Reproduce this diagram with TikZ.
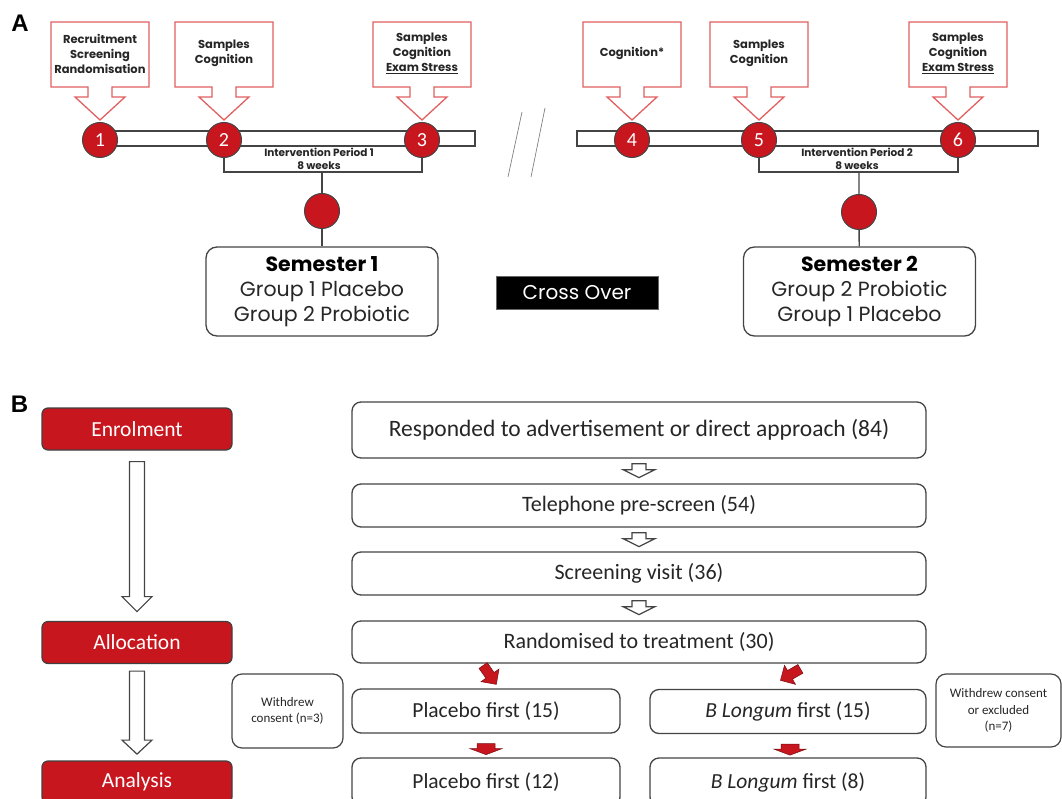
\documentclass[tikz,border=0pt]{standalone}
\usepackage{fontspec}
\setmainfont{Carlito}
\newfontfamily\gothic{Poppins}
\newfontfamily\arialfont{Liberation Sans}
\usepackage{tikz}
\usetikzlibrary{positioning, arrows, shapes}

\definecolor{boxred}{RGB}{200,22,30}
\definecolor{calloutred}{RGB}{226,96,96}
\definecolor{linegray}{RGB}{68,68,68}
\definecolor{textgray}{RGB}{38,38,38}

\tikzstyle{paneltag} = [font=\arialfont\bfseries\fontsize{24}{24}\selectfont, inner sep=0pt]
\tikzstyle{callbox} = [draw=calloutred, line width=1.3pt, fill=white]
\tikzstyle{calltext} = [align=center, font=\gothic\bfseries\fontsize{11.5}{15}\selectfont, text=textgray]
\tikzstyle{timebar} = [draw=linegray, line width=1.3pt, fill=white, inner sep=0pt]
\tikzstyle{reddot} = [circle, draw=linegray, line width=1pt, fill=boxred, minimum size=35pt, inner sep=0pt, text=white, font=\fontsize{20}{20}\selectfont]
\tikzstyle{linkline} = [draw=linegray, line width=1.4pt]
\tikzstyle{periodtext} = [align=center, font=\gothic\bfseries\fontsize{10.5}{13}\selectfont, text=textgray]
\tikzstyle{semesterbox} = [draw=linegray, line width=1.3pt, rounded corners=11pt, fill=white, minimum width=232pt, minimum height=89pt, align=center, text=textgray, font=\gothic\fontsize{20.5}{25}\selectfont]
\tikzstyle{crossbox} = [fill=black, draw=black!60, minimum width=162pt, minimum height=33pt, text=white, font=\gothic\fontsize{20}{20}\selectfont]
\tikzstyle{stagebox} = [draw=black!75, line width=1.2pt, fill=boxred, rounded corners=6pt, minimum width=190pt, minimum height=42pt, text=white, font=\fontsize{21.5}{21.5}\selectfont]
\tikzstyle{hollowarrow} = [draw=linegray, line width=1.2pt, fill=white]
\tikzstyle{flowbox} = [draw=linegray, line width=1.3pt, rounded corners=9pt, fill=white, minimum width=574pt, minimum height=43pt, text=textgray, font=\fontsize{22}{22}\selectfont]
\tikzstyle{halfbox} = [flowbox, minimum height=44pt, font=\fontsize{21.5}{21.5}\selectfont]
\tikzstyle{notebox} = [draw=linegray, line width=1.2pt, rounded corners=10pt, fill=white, align=center, text=textgray, font=\fontsize{13}{16.5}\selectfont]

\tikzset{
  redtilt/.pic={\filldraw[fill=boxred, draw=boxred!60!black, line width=0.5pt] (-12,-5) -- (0,-5) -- (0,-11) -- (11,0) -- (0,11) -- (0,5) -- (-12,5) -- cycle;},
  reddown/.pic={\filldraw[fill=boxred, draw=boxred!60!black, line width=0.5pt] (-5,-9) -- (0,-9) -- (0,-16) -- (6,0) -- (0,16) -- (0,9) -- (-5,9) -- cycle;}
}

\begin{document}
\begin{tikzpicture}[x=1pt, y=-1pt]
  \useasboundingbox (0,0) rectangle (1062,799);

  % panel A
  \node[paneltag] (tagA) at (20,23.5) {A};
  \node[timebar, minimum width=375pt, minimum height=15pt] (bar1) at (287.5,138.5) {};
  \node[timebar, minimum width=461pt, minimum height=15pt] (bar2) at (807.5,138.5) {};
  \draw[gray, line width=0.7pt] (522,112) -- (508,177) (545,108) -- (531,177);

  \foreach \cx/\nm/\txt in {100/r1/{Recruitment\\Screening\\Randomisation}, 224/r2/{Samples\\Cognition}, 422/r3/{Samples\\Cognition\\\underline{Exam Stress}}, 632/r4/{Cognition*}, 759/r5/{Samples\\Cognition}, 958/r6/{Samples\\Cognition\\\underline{Exam Stress}}} {
    \draw[callbox] (\cx-49,22) -- (\cx+49,22) -- (\cx+49,87) -- (\cx+12,87) -- (\cx+12,97) -- (\cx+25,97) -- (\cx,120) -- (\cx-25,97) -- (\cx-12,97) -- (\cx-12,87) -- (\cx-49,87) -- cycle;
    \node[calltext] (t\nm) at (\cx,53.5) {\txt};
  }

  \foreach \cx/\n in {100/1, 224/2, 422/3, 632/4, 759/5, 958/6}
    \node[reddot] (c\n) at (\cx,140) {\n};

  \node[periodtext] (period1) at (319,158.5) {Intervention Period 1\\8 weeks};
  \node[periodtext] (period2) at (857,158.5) {Intervention Period 2\\8 weeks};

  \coordinate (br1) at (322,172);
  \coordinate (br2) at (859,172);
  \draw[linkline] (c2.south) |- (br1) -| (c3.south);
  \draw[linkline] (c5.south) |- (br2) -| (c6.south);

  \node[reddot] (m1) at (322,211) {};
  \node[reddot] (m2) at (859,212) {};
  \node[semesterbox] (sem1) at (322,291.5) {\textbf{\color{black}Semester 1}\\Group 1 Placebo\\Group 2 Probiotic};
  \node[semesterbox] (sem2) at (859.5,291.5) {\textbf{\color{black}Semester 2}\\Group 2 Probiotic\\Group 1 Placebo};
  \draw[linkline] (br1) -- (m1) (m1) -- (sem1);
  \draw[linkline] (br2) -- (m2) (m2) -- (sem2);
  \node[crossbox] (cross) at (577,292.5) {Cross Over};

  % panel B
  \node[paneltag] (tagB) at (19.5,404.5) {B};
  \node[stagebox] (enrol) at (137,429) {Enrolment};
  \node[stagebox] (alloc) at (137,642.5) {Allocation};
  \node[stagebox] (analysis) at (137,782) {Analysis};
  \draw[hollowarrow] (enrol.south) ++(-7.5,11) -- ++(0,135) -- ++(-7.5,0) -- ++(15,15) -- ++(15,-15) -- ++(-7.5,0) -- ++(0,-135) -- cycle;
  \draw[hollowarrow] (alloc.south) ++(-7.5,7) -- ++(0,69) -- ++(-7.5,0) -- ++(15,14) -- ++(15,-14) -- ++(-7.5,0) -- ++(0,-69) -- cycle;

  \node[flowbox, minimum height=56pt, font=\fontsize{23.5}{23.5}\selectfont] (resp) at (639,430) {Responded to advertisement or direct approach (84)};
  \node[flowbox] (tele) at (639,505.5) {Telephone pre-screen (54)};
  \node[flowbox] (screen) at (639,573.5) {Screening visit (36)};
  \node[flowbox, minimum height=42pt] (rand) at (639,642) {Randomised to treatment (30)};
  \foreach \a in {resp, tele, screen}
    \draw[hollowarrow] (\a.south) ++(-7,5) -- ++(0,6) -- ++(-9,0) -- ++(16,8) -- ++(16,-8) -- ++(-9,0) -- ++(0,-6) -- cycle;

  \node[halfbox, minimum width=268pt] (plac1) at (486,711) {Placebo first (15)};
  \node[halfbox, minimum width=276pt] (long1) at (788,711.5) {\textit{B Longum} first (15)};
  \node[halfbox, minimum width=268pt, minimum height=48pt] (plac2) at (486,782) {Placebo first (12)};
  \node[halfbox, minimum width=276pt, minimum height=48pt] (long2) at (788,782) {\textit{B Longum} first (8)};

  \path (plac1.north) ++(4,-13) pic[rotate=-55] {redtilt};
  \path (long1.north) ++(2,-14) pic[rotate=210] {redtilt};
  \path (plac1.south) ++(0,15) pic[rotate=-90] {reddown};
  \path (long1.south) ++(2,15) pic[rotate=-90] {reddown};

  \node[notebox, minimum width=111pt, minimum height=74pt] (drop1) at (287.5,711) {Withdrew\\consent (n=3)};
  \node[notebox, minimum width=125pt, minimum height=73pt] (drop2) at (998.5,710.5) {Withdrew consent\\or excluded\\(n=7)};
  % \node[draw] at (alloc.east) {};
\end{tikzpicture}
\end{document}
